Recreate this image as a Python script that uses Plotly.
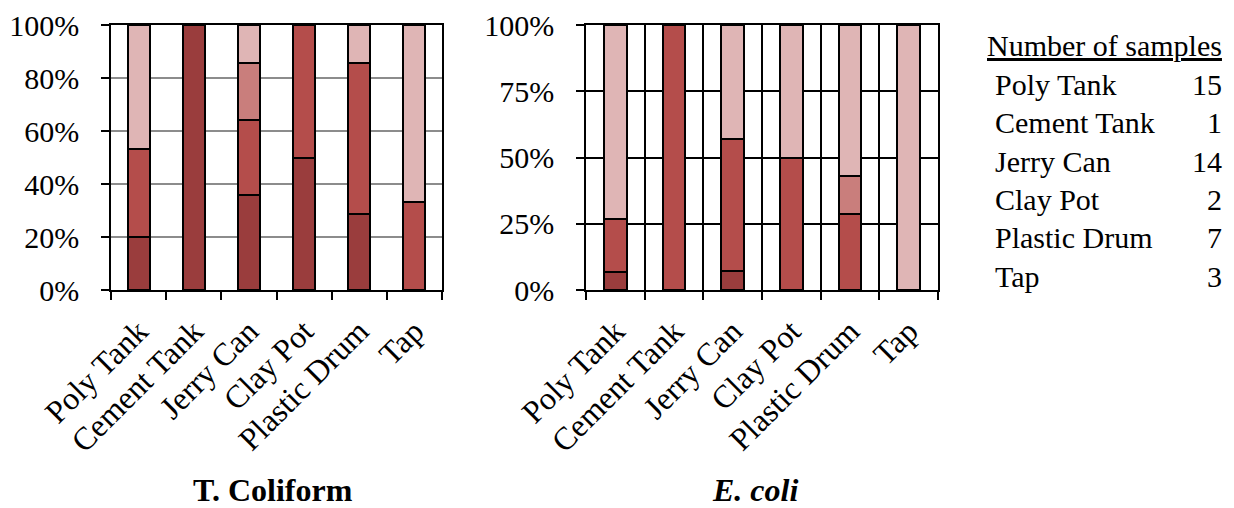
import plotly.graph_objects as go

categories = ["Poly Tank", "Cement Tank", "Jerry Can", "Clay Pot", "Plastic Drum", "Tap"]
sample_counts = [15, 1, 14, 2, 7, 3]

# T. Coliform (percent of samples per class, bottom to top)
tc_dark = [20.0, 100.0, 35.7, 50.0, 28.6, None]
tc_red = [33.3, None, 28.6, 50.0, 57.1, 33.3]
tc_med = [None, None, 21.4, None, None, None]
tc_light = [46.7, None, 14.3, None, 14.3, 66.7]

# E. coli
ec_dark = [6.7, None, 7.1, None, None, None]
ec_red = [20.0, 100.0, 50.0, 50.0, 28.6, None]
ec_med = [None, None, None, None, 14.3, None]
ec_light = [73.3, None, 42.9, 50.0, 57.1, 100.0]

colors = ["#9a3d3d", "#b44d4b", "#c97e7c", "#dfb5b5"]
FONT = "Times New Roman, Liberation Serif, serif"
W, H = 1226, 500
OFF = 8  # page body margin

fig = go.Figure()
for i, vals in enumerate([tc_dark, tc_red, tc_med, tc_light]):
    fig.add_trace(go.Bar(x=categories, y=vals, xaxis="x", yaxis="y", width=0.4,
                         marker=dict(color=colors[i], line=dict(color="black", width=2)),
                         showlegend=False, hoverinfo="skip"))
for i, vals in enumerate([ec_dark, ec_red, ec_med, ec_light]):
    fig.add_trace(go.Bar(x=categories, y=vals, xaxis="x2", yaxis="y2", width=0.39,
                         marker=dict(color=colors[i], line=dict(color="black", width=2)),
                         showlegend=False, hoverinfo="skip"))

def px_x(p):
    return (p - OFF) / W

def px_y(p):
    return 1 - (p - OFF) / H

FS = 30
common_x = dict(type="category", tickson="boundaries", ticks="outside", ticklen=8,
                tickwidth=1.5, tickcolor="black", showline=True, linecolor="black",
                linewidth=1.5, mirror=True, tickangle=-45,
                tickfont=dict(family=FONT, size=32, color="black"),
                ticklabelstandoff=8, automargin=False)
common_y = dict(range=[0, 100], ticks="outside", ticklen=8, tickwidth=1.5,
                tickcolor="black", showline=True, linecolor="black", linewidth=1.5,
                mirror=True, ticksuffix="%", tickfont=dict(family=FONT, size=FS, color="black"),
                zeroline=False, ticklabelstandoff=16, showgrid=True, gridwidth=1.5,
                automargin=False)

fig.update_layout(
    width=W, height=H,
    margin=dict(l=0, r=0, t=0, b=0),
    plot_bgcolor="white", paper_bgcolor="white",
    barmode="stack", bargap=0.6,
    xaxis=dict(domain=[px_x(111), px_x(442)], anchor="y", showgrid=False, **common_x),
    yaxis=dict(domain=[px_y(290), px_y(25)], anchor="x", dtick=20, gridcolor="#8c8c8c", **common_y),
    xaxis2=dict(domain=[px_x(586), px_x(938)], anchor="y2", showgrid=True,
                gridcolor="black", gridwidth=1.5, **common_x),
    yaxis2=dict(domain=[px_y(290), px_y(25)], anchor="x2", dtick=25, gridcolor="black", **common_y),
)

annots = [
    dict(text="<b>T. Coliform</b>", x=px_x(273), y=px_y(490)),
    dict(text="<b><i>E. coli</i></b>", x=px_x(755), y=px_y(490)),
]
for a in annots:
    fig.add_annotation(xref="paper", yref="paper", xanchor="center", yanchor="middle",
                       showarrow=False, borderpad=0,
                       font=dict(family=FONT, size=32, color="black"), **a)

# sample-count table
fig.add_annotation(xref="paper", yref="paper", x=px_x(1224), y=px_y(46), xanchor="right",
                   yanchor="middle", showarrow=False, text="<u>Number of samples</u>",
                   font=dict(family=FONT, size=FS, color="black"))
row_y = [84, 122.5, 161, 199.5, 238, 276.5]
for cat, n, yy in zip(categories, sample_counts, row_y):
    fig.add_annotation(xref="paper", yref="paper", x=px_x(993), y=px_y(yy), xanchor="left",
                       yanchor="middle", showarrow=False, text=cat,
                       font=dict(family=FONT, size=FS, color="black"))
    fig.add_annotation(xref="paper", yref="paper", x=px_x(1224), y=px_y(yy), xanchor="right",
                       yanchor="middle", showarrow=False, text=str(n),
                       font=dict(family=FONT, size=FS, color="black"))

fig.write_html("out.html")
